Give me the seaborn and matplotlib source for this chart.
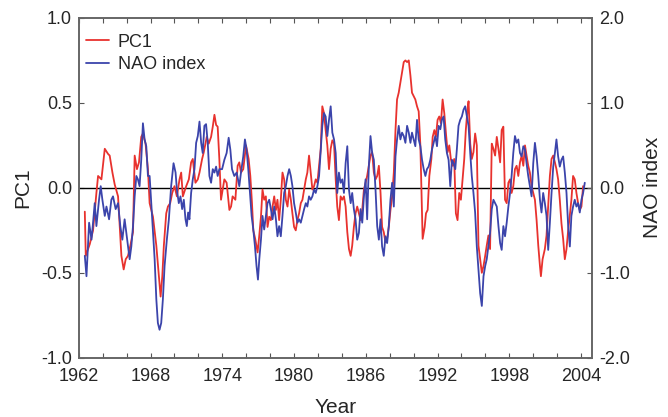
import numpy as np
import pandas as pd
import matplotlib
matplotlib.use("Agg")
import matplotlib.pyplot as plt
import seaborn as sns

# PC1 (left axis)
pc1_year = [1962.50, 1962.58, 1962.92, 1963.19, 1963.47, 1963.61, 1963.89, 1964.17, 1964.44, 1964.58,
            1964.81, 1965.00, 1965.28, 1965.56, 1965.75, 1965.92, 1966.11, 1966.31, 1966.53, 1966.67,
            1966.86, 1967.03, 1967.22, 1967.36, 1967.58, 1967.78,
            1967.92, 1968.20, 1968.48, 1968.70, 1968.84, 1968.98, 1969.11, 1969.31, 1969.45, 1969.64,
            1969.81, 1970.00, 1970.20, 1970.42, 1970.56, 1970.70, 1970.98, 1971.20, 1971.39, 1971.53,
            1971.75, 1971.95, 1972.09, 1972.31, 1972.45, 1972.59, 1972.70, 1972.86, 1973.06, 1973.20,
            1973.34, 1973.48, 1973.61, 1973.75, 1973.89, 1974.03, 1974.17, 1974.36, 1974.59, 1974.73,
            1974.86, 1975.09, 1975.28,
            1975.42, 1975.56, 1975.75, 1975.98, 1976.20, 1976.34, 1976.48, 1976.59, 1976.75, 1976.95,
            1977.09, 1977.23, 1977.36, 1977.50, 1977.64, 1977.78, 1977.92, 1978.06, 1978.20, 1978.34,
            1978.48, 1978.61, 1978.75, 1978.89, 1979.03, 1979.17, 1979.31, 1979.45, 1979.59, 1979.73,
            1979.86, 1980.00, 1980.14, 1980.28, 1980.42, 1980.56, 1980.70, 1980.84, 1980.98, 1981.11,
            1981.25, 1981.39, 1981.53, 1981.67, 1981.81, 1981.95, 1982.09, 1982.23, 1982.36, 1982.50,
            1982.64, 1982.78,
            1982.92, 1983.06, 1983.20, 1983.34, 1983.48, 1983.61, 1983.75, 1983.89, 1984.03, 1984.17,
            1984.31, 1984.45, 1984.59, 1984.73, 1984.86, 1985.00, 1985.14, 1985.28, 1985.42, 1985.56,
            1985.70, 1985.84, 1985.98, 1986.11, 1986.25, 1986.39, 1986.53, 1986.67, 1986.81, 1986.95,
            1987.09, 1987.23, 1987.36, 1987.50, 1987.64, 1987.78, 1987.92, 1988.06, 1988.20, 1988.34,
            1988.48, 1988.61, 1988.75, 1988.89, 1989.03, 1989.17, 1989.31, 1989.45, 1989.59, 1989.73,
            1989.86, 1990.00, 1990.14, 1990.28, 1990.42, 1990.56,
            1990.75, 1990.92, 1991.03, 1991.17, 1991.31, 1991.48, 1991.59, 1991.73, 1991.86, 1992.00,
            1992.14, 1992.28, 1992.42, 1992.56, 1992.70, 1992.84, 1992.98, 1993.11, 1993.25, 1993.39,
            1993.53, 1993.67, 1993.81, 1993.95, 1994.09, 1994.23, 1994.36, 1994.50, 1994.59, 1994.73,
            1994.86, 1995.00, 1995.14, 1995.28, 1995.42, 1995.56, 1995.70, 1995.84, 1995.98, 1996.11,
            1996.25, 1996.39, 1996.53, 1996.67, 1996.81, 1996.95, 1997.09, 1997.23, 1997.36,
            1997.50, 1997.64, 1997.78, 1997.92, 1998.06, 1998.19, 1998.33, 1998.47, 1998.61, 1998.75,
            1998.89, 1999.03, 1999.17, 1999.31, 1999.44, 1999.58, 1999.72, 1999.86, 2000.00, 2000.14,
            2000.28, 2000.42, 2000.56, 2000.64, 2000.78, 2000.97, 2001.11, 2001.25, 2001.39, 2001.53,
            2001.67, 2001.81, 2001.94, 2002.08, 2002.22, 2002.36, 2002.50, 2002.64, 2002.78, 2002.92,
            2003.06, 2003.19, 2003.33, 2003.47, 2003.61, 2003.75, 2003.89, 2004.03, 2004.17]
pc1_value = [-0.14, -0.40, -0.33, -0.25, -0.03, 0.07, 0.05, 0.23, 0.20, 0.19,
             0.09, 0.02, -0.05, -0.40, -0.48, -0.42, -0.40, -0.34, -0.26, 0.19,
             0.11, 0.15, 0.30, 0.32, 0.26, 0.11,
             -0.09, -0.17, -0.34, -0.52, -0.64, -0.52, -0.34, -0.15, -0.11, -0.09,
             -0.03, 0.01, -0.05, 0.05, 0.09, -0.05, 0.01, 0.05, 0.15, 0.17,
             0.03, 0.05, 0.09, 0.17, 0.21, 0.26, 0.30, 0.26, 0.30, 0.36,
             0.43, 0.37, 0.36, 0.17, -0.07, -0.01, 0.05, 0.03, -0.13, -0.11,
             -0.05, -0.07, 0.13,
             0.15, 0.09, 0.11, 0.25, 0.17, 0.07, -0.09, -0.25, -0.30, -0.38,
             -0.28, -0.17, -0.01, -0.07, -0.05, -0.23, -0.17, -0.19, -0.11, -0.05,
             -0.13, -0.07, -0.19, -0.07, 0.09, 0.05, -0.07, -0.11, -0.01, -0.07,
             -0.15, -0.23, -0.25, -0.19, -0.15, -0.09, -0.07, -0.01, 0.05, 0.09,
             0.19, 0.09, -0.01, 0.01, 0.05, 0.03, 0.13, 0.23, 0.48, 0.44,
             0.34, 0.25,
             0.11, 0.23, 0.28, 0.26, 0.05, -0.11, -0.19, -0.05, -0.07, -0.05,
             -0.11, -0.26, -0.36, -0.40, -0.34, -0.23, -0.15, -0.11, -0.15, -0.19,
             -0.13, -0.01, 0.03, 0.07, 0.13, 0.19, 0.21, 0.09, 0.05, 0.07,
             0.13, -0.03, -0.23, -0.26, -0.32, -0.30, -0.23, -0.13, -0.05, 0.09,
             0.34, 0.52, 0.56, 0.62, 0.68, 0.74, 0.75, 0.74, 0.75, 0.66,
             0.56, 0.54, 0.52, 0.48, 0.45, 0.25,
             -0.30, -0.23, -0.15, -0.13, 0.07, 0.17, 0.30, 0.34, 0.30, 0.40,
             0.42, 0.38, 0.52, 0.44, 0.32, 0.21, 0.25, 0.17, 0.13, 0.17,
             -0.15, -0.19, -0.03, -0.07, 0.05, 0.17, 0.34, 0.46, 0.51, 0.26,
             0.17, 0.21, 0.32, 0.25, -0.34, -0.42, -0.50, -0.46, -0.40, -0.34,
             -0.28, -0.36, 0.26, 0.23, 0.19, 0.30, 0.23, 0.15, 0.34,
             0.36, -0.07, -0.09, 0.03, 0.05, -0.03, 0.01, 0.11, 0.13, 0.07,
             0.15, 0.19, 0.13, 0.25, 0.19, 0.13, 0.09, 0.01, -0.03, -0.07,
             -0.19, -0.34, -0.46, -0.52, -0.42, -0.36, -0.28, -0.11, 0.07, 0.17,
             0.19, 0.15, 0.11, 0.05, -0.07, -0.21, -0.30, -0.42, -0.36, -0.25,
             -0.16, -0.07, 0.07, 0.05, -0.03, -0.09, -0.13, -0.11, 0.01]

# NAO index (right axis)
nao_year = [1962.50, 1962.64, 1962.86, 1963.06, 1963.19, 1963.33, 1963.47, 1963.69, 1963.83, 1963.97,
            1964.17, 1964.31, 1964.53, 1964.72, 1964.86, 1965.08, 1965.28, 1965.47, 1965.64, 1965.83,
            1965.97, 1966.11, 1966.25, 1966.39, 1966.53, 1966.67, 1966.81, 1966.94, 1967.08, 1967.22,
            1967.36, 1967.50, 1967.64, 1967.78,
            1967.92, 1968.14, 1968.34, 1968.48, 1968.61, 1968.75, 1968.89, 1969.03, 1969.17, 1969.36,
            1969.53, 1969.72, 1969.92, 1970.09, 1970.20, 1970.36, 1970.50, 1970.64, 1970.78, 1970.92,
            1971.03, 1971.14, 1971.25, 1971.39, 1971.53, 1971.67, 1971.81, 1971.95, 1972.09, 1972.23,
            1972.36, 1972.50, 1972.64, 1972.78, 1972.92, 1973.06, 1973.20, 1973.34, 1973.48, 1973.61,
            1973.75, 1973.98, 1974.17, 1974.36, 1974.53, 1974.67, 1974.81, 1975.00, 1975.20, 1975.36,
            1975.42, 1975.56, 1975.75, 1975.89, 1976.03, 1976.17, 1976.31, 1976.45, 1976.59, 1976.73,
            1976.86, 1976.98, 1977.09, 1977.23, 1977.36, 1977.50, 1977.64, 1977.78, 1977.92, 1978.06,
            1978.20, 1978.34, 1978.48, 1978.61, 1978.75, 1978.89, 1979.03, 1979.17, 1979.31, 1979.45,
            1979.59, 1979.73, 1979.86, 1980.00, 1980.14, 1980.28, 1980.42, 1980.56, 1980.70, 1980.84,
            1980.98, 1981.11, 1981.25, 1981.39, 1981.53, 1981.67, 1981.81, 1981.95, 1982.09, 1982.23,
            1982.36, 1982.50, 1982.64, 1982.78, 1982.92,
            1983.06, 1983.20, 1983.34, 1983.48, 1983.61, 1983.75, 1983.89, 1984.03, 1984.17, 1984.31,
            1984.45, 1984.59, 1984.73, 1984.86, 1985.00, 1985.14, 1985.28, 1985.42, 1985.56, 1985.70,
            1985.84, 1985.98, 1986.11, 1986.25, 1986.39, 1986.53, 1986.67, 1986.81, 1986.95, 1987.09,
            1987.23, 1987.36, 1987.50, 1987.64, 1987.78, 1987.92, 1988.06, 1988.20, 1988.34, 1988.48,
            1988.61, 1988.75, 1988.89, 1989.03, 1989.17, 1989.31, 1989.45, 1989.59, 1989.73, 1989.86,
            1990.00, 1990.14, 1990.28, 1990.42,
            1990.56, 1990.70, 1990.84, 1990.98, 1991.11, 1991.25, 1991.39, 1991.53, 1991.67, 1991.81,
            1991.95, 1992.09, 1992.23, 1992.36, 1992.50, 1992.64, 1992.78, 1992.92, 1993.06, 1993.20,
            1993.34, 1993.48, 1993.61, 1993.75, 1993.89, 1994.03, 1994.17, 1994.31, 1994.45, 1994.59,
            1994.73, 1994.86, 1995.00, 1995.14, 1995.28, 1995.42, 1995.56, 1995.70, 1995.84, 1995.98,
            1996.11, 1996.25, 1996.39, 1996.53, 1996.67, 1996.81, 1996.95, 1997.09, 1997.23, 1997.36,
            1997.50,
            1997.64, 1997.78, 1997.92, 1998.06, 1998.19, 1998.33, 1998.47, 1998.61, 1998.75, 1998.89,
            1999.03, 1999.17, 1999.31, 1999.44, 1999.58, 1999.72, 1999.86, 2000.00, 2000.14, 2000.28,
            2000.42, 2000.56, 2000.69, 2000.83, 2000.97, 2001.11, 2001.25, 2001.39, 2001.53, 2001.67,
            2001.81, 2001.94, 2002.08, 2002.22, 2002.36, 2002.50, 2002.64, 2002.78, 2002.92, 2003.06,
            2003.19, 2003.33, 2003.47, 2003.61, 2003.75, 2003.89, 2004.03, 2004.17, 2004.31]
nao_value = [-0.80, -1.04, -0.41, -0.61, -0.41, -0.18, -0.45, -0.14, 0.02, -0.14,
             -0.33, -0.22, -0.37, -0.14, -0.10, -0.25, -0.18, -0.45, -0.61, -0.37,
             -0.53, -0.69, -0.84, -0.69, -0.45, -0.10, 0.14, 0.10, 0.02, 0.33,
             0.76, 0.57, 0.49, 0.14,
             0.14, -0.37, -0.84, -1.31, -1.59, -1.67, -1.59, -1.31, -0.92, -0.61,
             -0.37, 0.02, 0.29, 0.18, -0.02, -0.18, -0.10, -0.25, -0.14, -0.37,
             -0.45, -0.29, -0.37, -0.06, 0.10, 0.22, 0.53, 0.61, 0.78, 0.53,
             0.41, 0.73, 0.75, 0.53, 0.14, 0.06, 0.22, 0.18, 0.25, 0.14,
             0.22, 0.22, 0.33, 0.41, 0.59, 0.45, 0.22, 0.14, 0.18, 0.06,
             0.02, 0.18, 0.37, 0.57, 0.45, 0.22, -0.06, -0.33, -0.49, -0.69,
             -0.92, -1.08, -0.84, -0.61, -0.33, -0.49, -0.33, -0.18, -0.14, -0.25,
             -0.37, -0.22, -0.37, -0.57, -0.45, -0.57, -0.33, -0.06, 0.02, 0.14,
             0.22, 0.14, 0.02, -0.18, -0.29, -0.41, -0.37, -0.41, -0.33, -0.25,
             -0.18, -0.22, -0.10, -0.14, -0.10, -0.02, -0.06, 0.02, 0.14, 0.45,
             0.73, 0.88, 0.84, 0.61, 0.80,
             0.96, 0.65, 0.57, 0.41, -0.06, 0.18, 0.06, 0.10, -0.06, 0.29,
             0.49, -0.02, -0.18, -0.06, -0.25, -0.37, -0.61, -0.53, -0.25, -0.41,
             -0.10, 0.10, -0.37, 0.25, 0.61, 0.41, 0.33, -0.02, -0.45, -0.61,
             -0.37, -0.69, -0.80, -0.57, -0.65, -0.45, -0.14, 0.06, -0.22, 0.37,
             0.57, 0.73, 0.57, 0.65, 0.61, 0.53, 0.73, 0.65, 0.53, 0.65,
             0.57, 0.49, 0.80, 0.57,
             0.49, 0.33, 0.22, 0.14, 0.22, 0.25, 0.33, 0.45, 0.53, 0.61,
             0.49, 0.73, 0.69, 0.80, 0.84, 0.57, 0.41, 0.33, 0.02, 0.33,
             0.29, 0.22, 0.45, 0.73, 0.80, 0.84, 0.92, 0.96, 0.84, 0.73,
             0.41, 0.14, -0.06, -0.29, -0.69, -0.96, -1.24, -1.39, -1.04, -0.92,
             -0.84, -0.69, -0.53, -0.25, -0.14, -0.18, -0.22, -0.45, -0.65, -0.73,
             -0.45,
             -0.57, -0.41, -0.22, -0.06, 0.14, 0.41, 0.61, 0.53, 0.57, 0.41,
             0.37, 0.49, 0.45, 0.29, 0.14, 0.02, -0.10, 0.29, 0.53, 0.37,
             0.14, -0.14, -0.29, -0.06, -0.18, -0.33, -0.73, -0.41, -0.06, 0.25,
             0.41, 0.57, 0.37, 0.25, 0.33, 0.37, 0.18, -0.06, -0.45, -0.69,
             -0.33, -0.22, -0.14, -0.22, -0.18, -0.29, -0.14, -0.06, 0.06]

pc1_df = pd.DataFrame({"Year": pc1_year, "PC1": pc1_value})
nao_df = pd.DataFrame({"Year": nao_year, "NAO index": nao_value})

sns.set_style("ticks")
plt.rcParams["font.family"] = ["Liberation Sans", "DejaVu Sans"]
plt.rcParams["xtick.direction"] = "in"
plt.rcParams["ytick.direction"] = "in"

red = "#e8322e"
blue = "#3b44ab"

fig = plt.figure(figsize=(6.68, 4.17), dpi=100)
ax = fig.add_axes([0.118, 0.142, 0.768, 0.815])
ax2 = ax.twinx()

ax.axhline(0, color="black", lw=1.0, zorder=1)
sns.lineplot(data=pc1_df, x="Year", y="PC1", ax=ax, color=red, lw=1.3, label="PC1", legend=False)
sns.lineplot(data=nao_df, x="Year", y="NAO index", ax=ax2, color=blue, lw=1.3, label="NAO index", legend=False)

ax.set_xlim(1962, 2004.9)
ax.set_ylim(-1.0, 1.0)
ax2.set_ylim(-2.0, 2.0)

ax.set_xticks(range(1962, 2005, 6))
ax.set_xticks(range(1962, 2005, 2), minor=True)
ax.set_yticks([-1.0, -0.5, 0.0, 0.5, 1.0])
ax.set_yticklabels(["-1.0", "-0.5", "0.0", "0.5", "1.0"])
ax2.set_yticks([-2.0, -1.0, 0.0, 1.0, 2.0])
ax2.set_yticklabels(["-2.0", "-1.0", "0.0", "1.0", "2.0"])

tick_col = "#555555"
ax.tick_params(axis="x", which="both", top=True, length=3.5, width=0.8, color=tick_col,
               labelsize=13, pad=7)
ax.tick_params(axis="y", length=3.5, width=0.8, labelsize=13, pad=5, color=tick_col)
ax2.tick_params(axis="y", length=3.5, width=0.8, labelsize=13, pad=5.5, color=tick_col)

for a in (ax, ax2):
    for s in a.spines.values():
        s.set_color("#666666")
        s.set_linewidth(1.2)

ax.set_xlabel("Year", fontsize=15, labelpad=10)
ax.set_ylabel("PC1", fontsize=15, labelpad=6)
ax2.set_ylabel("NAO index", fontsize=15, labelpad=9)

h1, l1 = ax.get_legend_handles_labels()
h2, l2 = ax2.get_legend_handles_labels()
ax.legend(h1 + h2, l1 + l2, loc="upper left", bbox_to_anchor=(0.0, 0.975), frameon=False,
          fontsize=13, handlelength=1.25, handletextpad=0.5, borderaxespad=0.0,
          borderpad=0.4, labelspacing=0.32)

fig.savefig("out.png", dpi=100)
